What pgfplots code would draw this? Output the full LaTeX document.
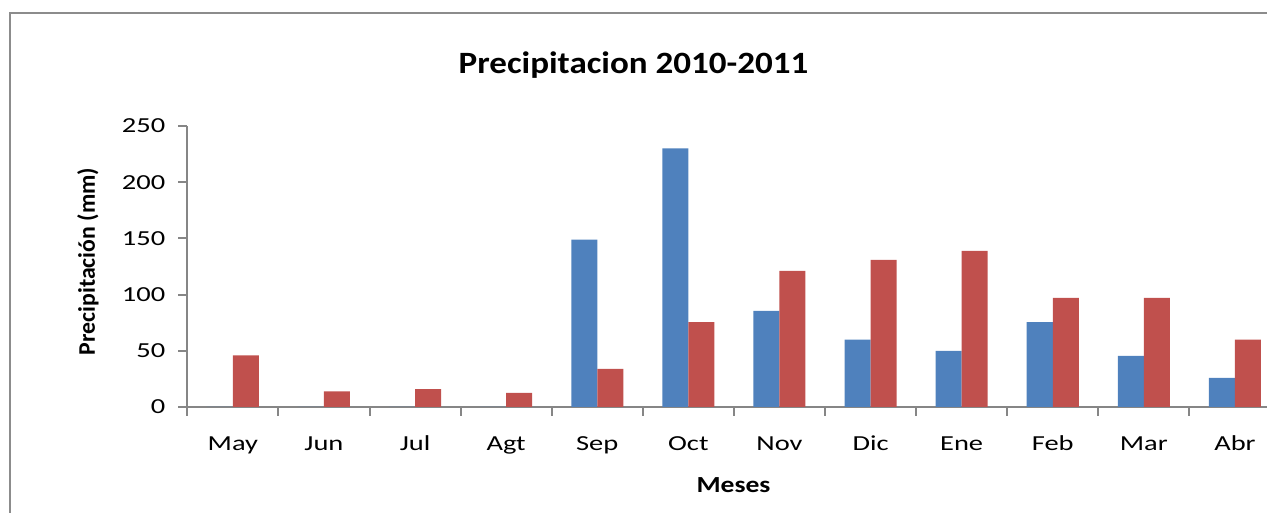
\documentclass[border=0pt]{standalone}
\usepackage{pgfplots}
\pgfplotsset{compat=1.18}
\usepackage{fontspec}
\setmainfont{Carlito}
\newfontfamily\tickfont[FakeStretch=1.33]{Carlito}
\newfontfamily\titlefont[FakeStretch=1.13]{Carlito}
\newfontfamily\xlabfont[FakeStretch=1.2]{Carlito}
\definecolor{sblue}{HTML}{4F81BD}
\definecolor{sred}{HTML}{C0504D}
\definecolor{axgray}{HTML}{868686}
\definecolor{bordergray}{HTML}{8C8C8C}
\begin{document}
\begin{tikzpicture}
\path[use as bounding box] (0,0) rectangle (633.5pt,256.5pt);
\draw[bordergray, line width=1pt] (5pt,-2pt) -- (5pt,250pt) -- (640pt,250pt);
\begin{axis}[
  at={(93.65pt,53pt)}, anchor=south west,
  scale only axis,
  width=539.85pt, height=140.5pt,
  ybar=0pt, bar width=13pt,
  xmin=-0.5, xmax=11.352,
  ymin=0, ymax=250,
  axis lines*=left,
  axis line style={axgray, line width=1pt},
  xtick={0,...,11},
  xticklabels={May,Jun,Jul,Agt,Sep,Oct,Nov,Dic,Ene,Feb,Mar,Abr},
  minor xtick={-0.5,0.5,...,10.5},
  ytick={0,50,...,250},
  tick align=outside,
  major tick length=4.5pt,
  minor tick length=4.5pt,
  major x tick style={draw=none},
  minor x tick style={axgray, line width=1pt},
  ytick style={axgray, line width=1pt},
  ticklabel style={font=\tickfont\fontsize{10.7pt}{12pt}\selectfont, text=black},
  /pgf/number format/assume math mode=true,
  xticklabel style={anchor=base, yshift=-22pt+4.5pt},
  yticklabel style={anchor=east, xshift=-3pt},
  title={Precipitacion 2010-2011},
  title style={at={(axis description cs:0.4133,1.1875)}, anchor=base, yshift=-6pt, font=\titlefont\bfseries\fontsize{15.5pt}{18pt}\selectfont},
  xlabel={Meses},
  xlabel style={at={(axis description cs:0.5059,-0.3025)}, anchor=base, font=\xlabfont\bfseries\fontsize{11.5pt}{14pt}\selectfont},
  ylabel={Precipitación (mm)},
  ylabel style={at={(axis description cs:-0.0855,0.518)}, anchor=base, rotate=0, font=\bfseries\fontsize{11.9pt}{14pt}\selectfont},
  clip=false,
]
\addplot[fill=sblue, draw=none] coordinates {
  (0,0) (1,0) (2,0) (3,0) (4,149) (5,230) (6,85.5) (7,60) (8,50) (9,75.5) (10,45.5) (11,26)
};
\addplot[fill=sred, draw=none] coordinates {
  (0,46) (1,14) (2,16) (3,12.5) (4,34) (5,75.5) (6,121) (7,131) (8,139) (9,97) (10,97) (11,60)
};
\end{axis}
\end{tikzpicture}
\end{document}
